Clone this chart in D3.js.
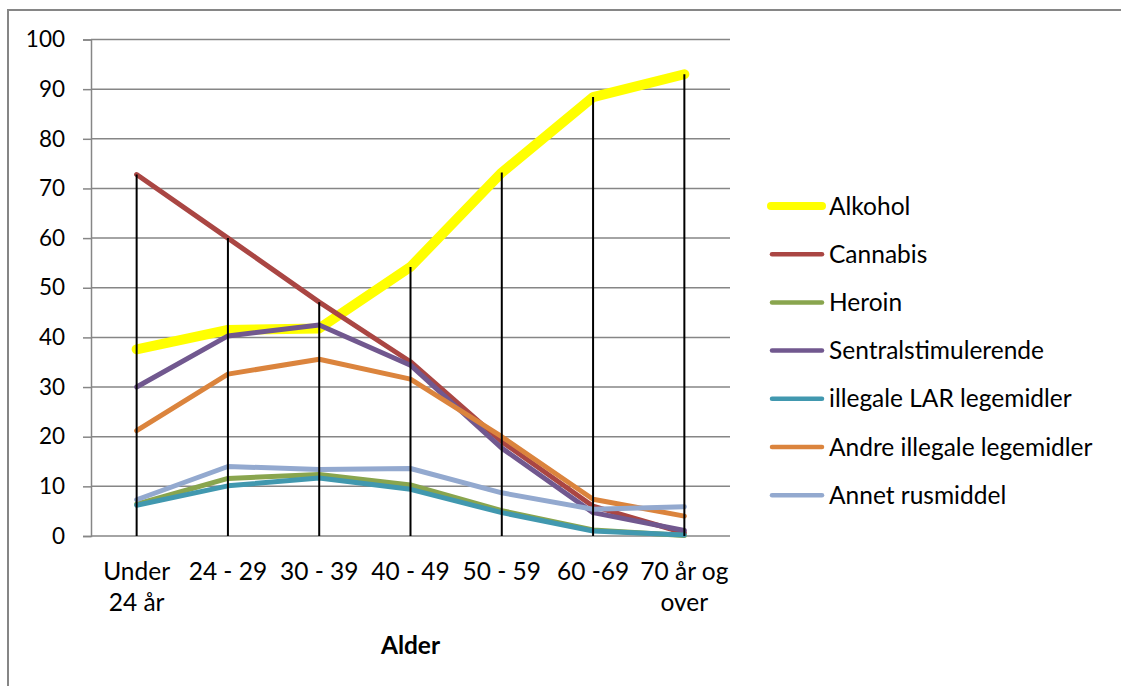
<!DOCTYPE html>
<html>
<head>
<meta charset="utf-8">
<script src="https://cdn.jsdelivr.net/npm/d3@7"></script>
<style>
  html, body { margin: 0; padding: 0; background: #fff; }
  svg { display: block; }
  text { font-family: Lato, "Open Sans", sans-serif; fill: #000; }
</style>
</head>
<body>
<svg id="chart" width="1121" height="686"></svg>
<script>
// Age groups (x-axis labels, one array entry per line of text)
const categories = [["Under", "24 år"], ["24 - 29"], ["30 - 39"], ["40 - 49"], ["50 - 59"], ["60 -69"], ["70 år og", "over"]];
const yTicks = [0, 10, 20, 30, 40, 50, 60, 70, 80, 90, 100];
const axisTitle = "Alder";

// Share (%) per substance and age group
const seriesNames = ["Alkohol", "Cannabis", "Heroin", "Sentralstimulerende", "illegale LAR legemidler", "Andre illegale legemidler", "Annet rusmiddel"];
const alkohol    = [37.6, 41.5, 41.8, 54.2, 73.2, 88.4, 93.0];
const cannabis   = [72.8, 60.0, 47.1, 35.1, 19.0, 6.0, 0.6];
const heroin     = [6.4, 11.6, 12.4, 10.3, 5.1, 1.2, 0.1];
const sentral    = [30.0, 40.3, 42.5, 34.4, 17.7, 4.7, 1.1];
const lar        = [6.2, 10.1, 11.7, 9.4, 4.7, 1.0, 0.2];
const andre      = [21.2, 32.6, 35.6, 31.6, 20.0, 7.4, 4.0];
const annet      = [7.3, 14.0, 13.4, 13.6, 8.7, 5.4, 5.9];
const seriesColors = ["#ffff00", "#aa4643", "#89a54e", "#71588f", "#4198af", "#db843d", "#93a9cf"];

const seriesValues = [alkohol, cannabis, heroin, sentral, lar, andre, annet];
const series = seriesNames.map((name, i) => ({
  name, color: seriesColors[i], values: seriesValues[i], width: i === 0 ? 10 : 5
}));

const svg = d3.select("#chart");
const plot = { left: 91, right: 730, top: 39.5, bottom: 536 };
const grey = "#868686";
const labelSize = 24.5;

// Chart-area frame
svg.append("rect")
  .attr("x", 8).attr("y", 10).attr("width", 1300).attr("height", 900)
  .attr("fill", "none").attr("stroke", grey).attr("stroke-width", 2);

const x = d3.scaleBand().domain(d3.range(categories.length))
  .range([plot.left, plot.right]);
const y = d3.scaleLinear().domain([0, 100]).range([plot.bottom, plot.top]);
const cx = i => x(i) + x.bandwidth() / 2;

// Horizontal gridlines with the left axis
const yAxis = d3.axisLeft(y).tickValues(yTicks).tickSize(8).tickPadding(18).tickFormat(d3.format("d"));
const gy = svg.append("g").attr("transform", `translate(${plot.left},0)`).call(yAxis);
gy.select(".domain").attr("stroke", grey).attr("stroke-width", 1.5);
gy.selectAll(".tick line").attr("stroke", grey).attr("stroke-width", 1.5);
gy.selectAll(".tick text").attr("font-size", 22.5).attr("font-family", "Lato, sans-serif").attr("fill", "#000");
svg.append("g").selectAll("line").data(yTicks.filter(t => t > 0)).join("line")
  .attr("x1", plot.left).attr("x2", plot.right)
  .attr("y1", d => y(d)).attr("y2", d => y(d))
  .attr("stroke", grey).attr("stroke-width", 1.5);

// Bottom axis line
svg.append("line")
  .attr("x1", plot.left).attr("x2", plot.right)
  .attr("y1", y(0)).attr("y2", y(0))
  .attr("stroke", grey).attr("stroke-width", 1.5);

// Category labels
const xl = svg.append("g");
categories.forEach((lines, i) => {
  const t = xl.append("text").attr("text-anchor", "middle").attr("font-size", labelSize)
    .attr("x", cx(i)).attr("y", 580);
  lines.forEach((ln, k) => t.append("tspan").attr("x", cx(i)).attr("dy", k === 0 ? 0 : 31).text(ln));
});

svg.append("text").attr("x", (plot.left + plot.right) / 2).attr("y", 654)
  .attr("text-anchor", "middle").attr("font-size", labelSize).attr("font-weight", "bold")
  .text(axisTitle);

// Series lines
const line = d3.line().x((d, i) => cx(i)).y(d => y(d));
svg.append("g").selectAll("path").data(series).join("path")
  .attr("d", d => line(d.values))
  .attr("fill", "none")
  .attr("stroke", d => d.color)
  .attr("stroke-width", d => d.width)
  .attr("stroke-linejoin", "round")
  .attr("stroke-linecap", "round");

// Drop lines from the highest value in each age group down to the axis
const maxima = categories.map((c, i) => d3.max(series, s => s.values[i]));
svg.append("g").selectAll("line").data(maxima).join("line")
  .attr("x1", (d, i) => cx(i)).attr("x2", (d, i) => cx(i))
  .attr("y1", d => y(d)).attr("y2", y(0))
  .attr("stroke", "#000").attr("stroke-width", 2);

// Legend
const legend = svg.append("g");
series.forEach((s, i) => {
  const ly = 206 + i * 48.2;
  legend.append("line")
    .attr("x1", i === 0 ? 771 : 772).attr("x2", 822)
    .attr("y1", ly).attr("y2", ly)
    .attr("stroke", s.color).attr("stroke-width", i === 0 ? 8 : 4.5)
    .attr("stroke-linecap", "round");
  legend.append("text").attr("x", 829).attr("y", ly).attr("dy", "0.35em")
    .attr("font-size", labelSize).text(s.name);
});
</script>
</body>
</html>
